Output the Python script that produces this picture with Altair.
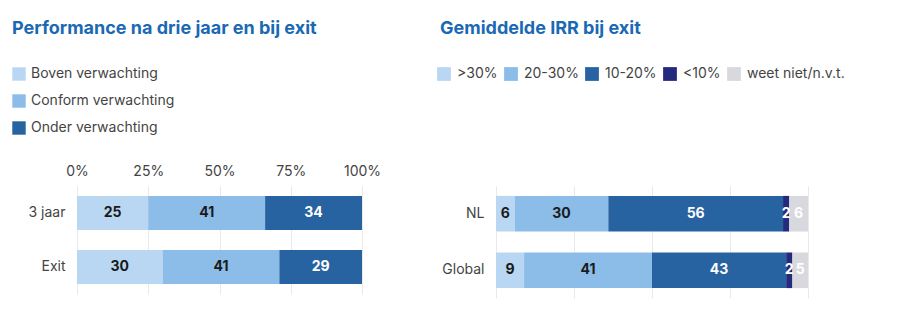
import altair as alt
import pandas as pd

# ---- data -------------------------------------------------------------
perf_rows = ["3 jaar", "Exit"]
perf_cats = ["Boven verwachting", "Conform verwachting", "Onder verwachting"]
perf_3jaar = [25, 41, 34]
perf_exit = [30, 41, 29]

irr_rows = ["NL", "Global"]
irr_cats = [">30%", "20-30%", "10-20%", "<10%", "weet niet/n.v.t."]
irr_nl = [6, 30, 56, 2, 6]
irr_global = [9, 41, 43, 2, 5]

perf_colors = ["#b9d7f2", "#8bbde8", "#2763a1"]
irr_colors = ["#b9d7f2", "#8bbde8", "#2763a1", "#242b7d", "#d8d9de"]
# segments whose value label is drawn in white
white_label_cats = ["Onder verwachting", "10-20%", "<10%", "weet niet/n.v.t."]

FONT = "Inter"
TITLE_COLOR = "#1a69b4"
TEXT_COLOR = "#444444"


def long_table(rows, cats, series):
    recs = []
    for r, vals in zip(rows, series):
        for i, (c, v) in enumerate(zip(cats, vals)):
            recs.append({"row": r, "cat": c, "order": i, "value": v})
    return pd.DataFrame(recs)


def panel(df, rows, cats, colors, title, width, height, y_extent,
          show_x_labels, legend, title_offset, y_pad_outer):
    base = alt.Chart(df).transform_stack(
        stack="value", groupby=["row"], sort=[alt.SortField("order")],
        as_=["x0", "x1"]
    ).transform_calculate(mid="(datum.x0 + datum.x1) / 2")

    x_axis = alt.Axis(
        orient="top", values=[0, 25, 50, 75, 100], labelExpr="datum.value + '%'",
        domain=False, ticks=False, grid=True, gridColor="#e9e9ec", gridWidth=1,
        labels=show_x_labels, labelFontSize=14, labelFont=FONT, labelFlush=False,
        labelColor=TEXT_COLOR, labelPadding=8, title=None,
    )
    x_scale = alt.Scale(domain=[0, 100], nice=False)
    y_enc = alt.Y(
        "row:N", sort=rows, title=None,
        scale=alt.Scale(paddingInner=0.37, paddingOuter=y_pad_outer),
        axis=alt.Axis(domain=False, ticks=False, labelFontSize=14, labelFont=FONT,
                      labelColor=TEXT_COLOR, labelPadding=12,
                      minExtent=y_extent, maxExtent=y_extent),
    )

    bars = base.mark_bar().encode(
        x=alt.X("x0:Q", scale=x_scale, axis=x_axis),
        x2="x1:Q",
        y=y_enc,
        color=alt.Color("cat:N", scale=alt.Scale(domain=cats, range=colors),
                        sort=cats, legend=legend),
        order="order:Q",
    )
    labels = base.mark_text(fontSize=14, fontWeight="bold", font=FONT).encode(
        x=alt.X("mid:Q", scale=x_scale),
        y=alt.Y("row:N", sort=rows),
        text="value:Q",
        color=alt.condition(
            alt.FieldOneOfPredicate(field="cat", oneOf=white_label_cats),
            alt.value("#ffffff"), alt.value("#1a1a1a")),
    )
    return alt.layer(bars, labels).properties(
        width=width, height=height,
        title=alt.TitleParams(
            title, anchor="start", frame="group", dx=-y_extent,
            fontSize=18, fontWeight="bold", font=FONT, color=TITLE_COLOR,
            offset=title_offset,
        ),
    )


perf_df = long_table(perf_rows, perf_cats, [perf_3jaar, perf_exit])
irr_df = long_table(irr_rows, irr_cats, [irr_nl, irr_global])

perf_legend = alt.Legend(
    orient="none", legendX=-65, legendY=-119, direction="vertical", title=None,
    symbolType="square", symbolSize=180, symbolStrokeWidth=0, symbolOpacity=1,
    labelFontSize=14, labelFont=FONT, labelColor=TEXT_COLOR, labelOffset=5,
    rowPadding=13,
)
irr_legend = alt.Legend(
    orient="none", legendX=-59, legendY=-119, direction="horizontal", columns=5,
    title=None, symbolType="square", symbolSize=190, symbolStrokeWidth=0,
    symbolOpacity=1, labelFontSize=14, labelFont=FONT, labelColor=TEXT_COLOR,
    labelOffset=6, columnPadding=6,
)

left = panel(perf_df, perf_rows, perf_cats, perf_colors,
             "Performance na drie jaar en bij exit", 285, 108, 65, True,
             perf_legend, 29, 0.185)
right = panel(irr_df, irr_rows, irr_cats, irr_colors,
              "Gemiddelde IRR bij exit", 312, 112, 56, False,
              irr_legend, 29, 0.175)

chart = alt.hconcat(left, right, spacing=134, bounds="flush").resolve_scale(
    color="independent"
).properties(
    padding={"left": 12, "top": 20, "right": 5, "bottom": 5}
).configure_view(stroke=None)

chart.save("out.html", embed_options={"renderer": "svg", "actions": False})
